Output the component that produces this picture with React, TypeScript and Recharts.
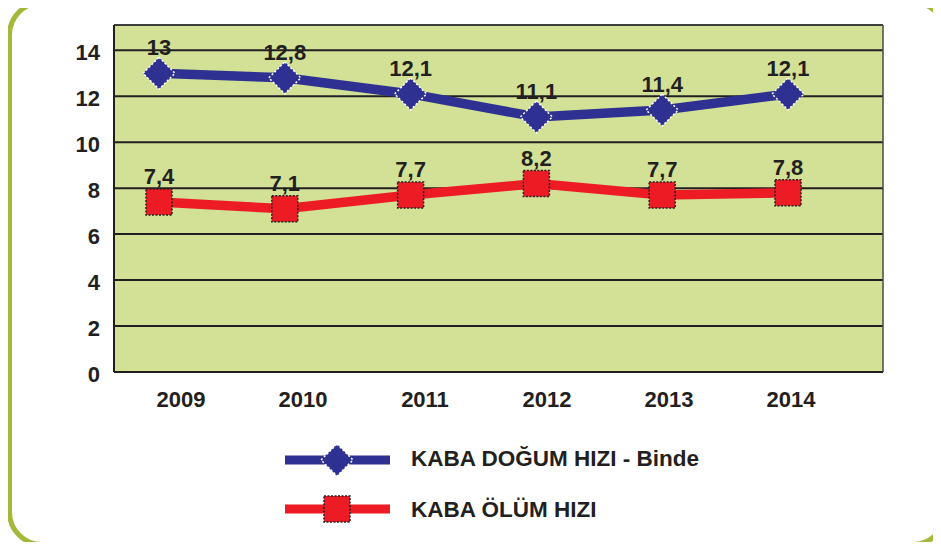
import {
  LineChart,
  Line,
  XAxis,
  YAxis,
  CartesianGrid,
  Legend,
  LabelList,
} from 'recharts';

const years = ['2009', '2010', '2011', '2012', '2013', '2014'];
const birthRate = [13, 12.8, 12.1, 11.1, 11.4, 12.1];
const deathRate = [7.4, 7.1, 7.7, 8.2, 7.7, 7.8];
const yTicks = [0, 2, 4, 6, 8, 10, 12, 14];
const boundaryTicks = [0, 1, 2, 3, 4, 5, 6];
const birthName = 'KABA DOĞUM HIZI - Binde';
const deathName = 'KABA ÖLÜM HIZI';

const BLUE = '#2e3192';
const RED = '#ed1c24';
const INK = '#231f20';
const PLOT_BG = '#d2e196';
const FRAME = '#a3b93c';
const FONT = '"Liberation Sans", Arial, sans-serif';

const data = years.map((year, i) => ({
  year,
  slot: i,
  birth: birthRate[i],
  death: deathRate[i],
}));

function fmt(v: number): string {
  return String(v).replace('.', ',');
}

const Diamond = (props: any) => {
  const { cx, cy, index } = props;
  const r = 16;
  return (
    <polygon
      key={'d' + index}
      points={`${cx},${cy - r} ${cx + r},${cy} ${cx},${cy + r} ${cx - r},${cy}`}
      fill={BLUE}
      stroke="#fff"
      strokeWidth={1.5}
      strokeDasharray="2 2"
    />
  );
};

const Square = (props: any) => {
  const { cx, cy, index } = props;
  const s = 13;
  return (
    <rect
      key={'s' + index}
      x={cx - s}
      y={cy - s}
      width={s * 2}
      height={s * 2}
      fill={RED}
      stroke="#222"
      strokeWidth={1.5}
      strokeDasharray="2 1.5"
    />
  );
};

const YTick = ({ x, y, payload }: any) => (
  <text
    x={x}
    y={y + 2}
    textAnchor="end"
    dominantBaseline="central"
    fill={INK}
    fontSize={22}
    fontWeight="bold"
    fontFamily={FONT}
  >
    {payload.value}
  </text>
);

const legendText = {
  position: 'absolute' as const,
  left: 411,
  height: 40,
  lineHeight: '40px',
  fontSize: 22.5,
  fontWeight: 'bold' as const,
  fontFamily: FONT,
  color: INK,
  whiteSpace: 'nowrap' as const,
};

function LegendBox() {
  return (
    <div style={{ position: 'relative', width: 941, height: 110 }}>
      <svg style={{ position: 'absolute', left: 283, top: 20 }} width={110} height={40}>
        <line x1={2} y1={20} x2={107} y2={20} stroke={BLUE} strokeWidth={9} />
        <Diamond cx={54} cy={20} index="l" />
      </svg>
      <div style={{ ...legendText, top: 19 }}>{birthName}</div>
      <svg style={{ position: 'absolute', left: 283, top: 69 }} width={110} height={40}>
        <line x1={2} y1={20} x2={107} y2={20} stroke={RED} strokeWidth={9} />
        <Square cx={54} cy={20} index="l" />
      </svg>
      <div style={{ ...legendText, top: 70 }}>{deathName}</div>
    </div>
  );
}

export default function App() {
  return (
    <div style={{ position: 'relative', width: 941, height: 550, margin: -8, overflow: 'hidden', background: '#fff' }}>
      <div
        style={{
          position: 'absolute',
          left: 7,
          top: 0,
          width: 941,
          height: 547,
          border: `5px solid ${FRAME}`,
          borderRadius: 35,
          boxSizing: 'border-box',
        }}
      />
      <LineChart
        width={941}
        height={550}
        data={data}
        margin={{ top: 25, right: 58, left: 0, bottom: 20 }}
        style={{ position: 'absolute', left: 0, top: 0 }}
      >
        <CartesianGrid
          xAxisId="pts"
          vertical={false}
          stroke={INK}
          strokeWidth={2}
          fill={PLOT_BG}
          fillOpacity={1}
        />
        {/* thin frame round the plot area: top and right edges */}
        <CartesianGrid
          xAxisId="pts"
          stroke="#4a4a4a"
          strokeWidth={1.5}
          horizontalCoordinatesGenerator={({ offset }: any) => [offset.top]}
          verticalCoordinatesGenerator={({ offset }: any) => [offset.left + offset.width]}
        />
        <XAxis xAxisId="pts" dataKey="year" hide padding={{ left: 45, right: 95 }} />
        <XAxis
          xAxisId="grid"
          dataKey="slot"
          type="number"
          domain={[0, 6]}
          ticks={boundaryTicks}
          tick={false}
          tickSize={11}
          height={12}
          padding={{ left: 0, right: 26 }}
          stroke={INK}
          axisLine={{ stroke: INK, strokeWidth: 2 }}
          tickLine={{ stroke: INK, strokeWidth: 2 }}
        />
        <XAxis
          xAxisId="lab"
          dataKey="year"
          height={36}
          axisLine={false}
          tickLine={false}
          tickMargin={1}
          padding={{ left: 67, right: 92 }}
          tick={{ fill: INK, fontSize: 22, fontWeight: 'bold', fontFamily: FONT }}
        />
        <YAxis
          domain={[0, 15.1]}
          ticks={yTicks}
          width={114}
          tickLine={false}
          tickMargin={8}
          axisLine={{ stroke: INK, strokeWidth: 2 }}
          tick={<YTick />}
        />
        <Legend
          verticalAlign="bottom"
          wrapperStyle={{ left: 0, width: 941 }}
          content={() => <LegendBox />}
        />
        <Line
          xAxisId="pts"
          type="linear"
          dataKey="birth"
          name={birthName}
          stroke={BLUE}
          strokeWidth={9.5}
          dot={Diamond}
          activeDot={false}
          isAnimationActive={false}
        >
          <LabelList
            dataKey="birth"
            position="top"
            offset={18}
            formatter={(v: any) => fmt(Number(v))}
            fill={INK}
            fontSize={22}
            fontWeight="bold"
            fontFamily={FONT}
          />
        </Line>
        <Line
          xAxisId="pts"
          type="linear"
          dataKey="death"
          name={deathName}
          stroke={RED}
          strokeWidth={9.5}
          dot={Square}
          activeDot={false}
          isAnimationActive={false}
        >
          <LabelList
            dataKey="death"
            position="top"
            offset={18}
            formatter={(v: any) => fmt(Number(v))}
            fill={INK}
            fontSize={22}
            fontWeight="bold"
            fontFamily={FONT}
          />
        </Line>
      </LineChart>
    </div>
  );
}
